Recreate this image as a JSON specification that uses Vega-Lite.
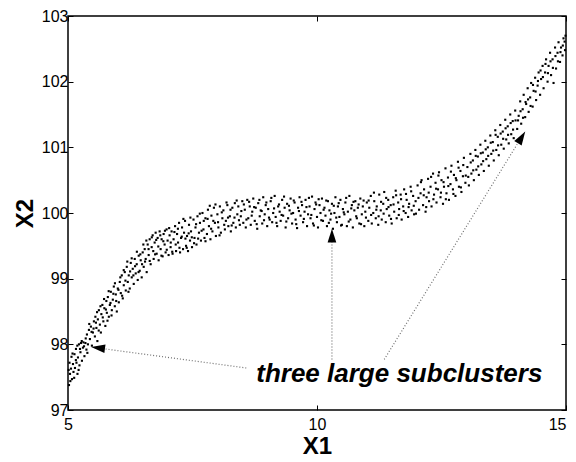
{
  "$schema": "https://vega.github.io/schema/vega-lite/v6.json",
  "width": 498,
  "height": 394,
  "autosize": {"type": "none"},
  "padding": {"left": 68, "top": 16, "right": 10, "bottom": 52},
  "background": "white",
  "config": {
    "view": {"stroke": "black", "strokeWidth": 1.5},
    "axis": {"labelFont": "Liberation Sans", "labelFontSize": 16, "labelColor": "black", "titleFont": "Liberation Sans", "titleFontSize": 24, "titleFontWeight": "bold", "titleColor": "black", "grid": false, "domain": false, "tickColor": "black", "tickSize": -5, "tickWidth": 1}
  },
  "datasets": {
    "pts": [
{"x1":5.02,"x2":97.38},{"x1":5.03,"x2":97.72},{"x1":5.04,"x2":97.55},{"x1":5.06,"x2":97.63},{"x1":5.07,"x2":97.81},{"x1":5.08,"x2":97.47},{"x1":5.10,"x2":97.70},{"x1":5.11,"x2":97.58},{"x1":5.13,"x2":97.85},{"x1":5.14,"x2":97.64},{"x1":5.16,"x2":97.93},{"x1":5.17,"x2":97.72},{"x1":5.19,"x2":97.55},{"x1":5.20,"x2":97.80},{"x1":5.22,"x2":98.00},{"x1":5.23,"x2":97.68},{"x1":5.25,"x2":97.88},{"x1":5.26,"x2":98.02},{"x1":5.28,"x2":97.75},{"x1":5.30,"x2":97.95},{"x1":5.31,"x2":98.03},{"x1":5.33,"x2":97.82},{"x1":5.35,"x2":98.02},{"x1":5.37,"x2":97.92},{"x1":5.38,"x2":98.15},{"x1":5.40,"x2":98.00},{"x1":5.42,"x2":98.22},{"x1":5.44,"x2":98.08},{"x1":5.46,"x2":98.27},{"x1":5.48,"x2":97.98},{"x1":5.50,"x2":98.18},
{"x1":5.52,"x2":98.35},{"x1":5.54,"x2":98.12},{"x1":5.55,"x2":98.42},{"x1":5.57,"x2":98.25},{"x1":5.59,"x2":98.05},{"x1":5.60,"x2":98.38},{"x1":5.62,"x2":98.52},{"x1":5.64,"x2":98.30},{"x1":5.66,"x2":98.18},{"x1":5.67,"x2":98.46},{"x1":5.69,"x2":98.60},{"x1":5.71,"x2":98.35},{"x1":5.73,"x2":98.55},{"x1":5.75,"x2":98.28},{"x1":5.77,"x2":98.66},{"x1":5.78,"x2":98.48},{"x1":5.80,"x2":98.72},{"x1":5.82,"x2":98.42},{"x1":5.84,"x2":98.60},{"x1":5.86,"x2":98.80},{"x1":5.88,"x2":98.52},{"x1":5.90,"x2":98.68},{"x1":5.92,"x2":98.88},{"x1":5.94,"x2":98.58},{"x1":5.96,"x2":98.76},{"x1":5.98,"x2":98.50},{"x1":6.00,"x2":98.85},
{"x1":6.02,"x2":98.64},{"x1":6.04,"x2":98.95},{"x1":6.06,"x2":98.78},{"x1":6.08,"x2":99.05},{"x1":6.10,"x2":98.70},{"x1":6.12,"x2":98.90},{"x1":6.14,"x2":99.10},{"x1":6.16,"x2":98.82},{"x1":6.18,"x2":99.18},{"x1":6.20,"x2":98.95},{"x1":6.22,"x2":99.05},{"x1":6.24,"x2":98.85},{"x1":6.26,"x2":99.24},{"x1":6.28,"x2":99.02},{"x1":6.30,"x2":99.15},{"x1":6.32,"x2":98.92},{"x1":6.34,"x2":99.30},{"x1":6.36,"x2":99.08},{"x1":6.38,"x2":99.22},{"x1":6.40,"x2":98.98},{"x1":6.42,"x2":99.35},{"x1":6.44,"x2":99.12},{"x1":6.46,"x2":99.28},{"x1":6.48,"x2":99.02},{"x1":6.50,"x2":99.40},
{"x1":6.52,"x2":99.18},{"x1":6.54,"x2":99.45},{"x1":6.56,"x2":99.30},{"x1":6.58,"x2":99.10},{"x1":6.60,"x2":99.52},{"x1":6.62,"x2":99.36},{"x1":6.64,"x2":99.60},{"x1":6.66,"x2":99.22},{"x1":6.68,"x2":99.48},{"x1":6.70,"x2":99.66},{"x1":6.72,"x2":99.30},{"x1":6.74,"x2":99.55},{"x1":6.76,"x2":99.70},{"x1":6.78,"x2":99.38},{"x1":6.80,"x2":99.62},{"x1":6.82,"x2":99.28},{"x1":6.84,"x2":99.72},{"x1":6.86,"x2":99.45},{"x1":6.88,"x2":99.60},{"x1":6.90,"x2":99.34},{"x1":6.92,"x2":99.68},{"x1":6.94,"x2":99.52},{"x1":6.96,"x2":99.40},{"x1":6.98,"x2":99.75},{"x1":7.00,"x2":99.58},
{"x1":7.02,"x2":99.36},{"x1":7.04,"x2":99.66},{"x1":7.06,"x2":99.48},{"x1":7.08,"x2":99.72},{"x1":7.10,"x2":99.38},{"x1":7.12,"x2":99.60},{"x1":7.15,"x2":99.80},{"x1":7.17,"x2":99.42},{"x1":7.19,"x2":99.68},{"x1":7.21,"x2":99.55},{"x1":7.23,"x2":99.85},{"x1":7.25,"x2":99.40},{"x1":7.27,"x2":99.62},{"x1":7.29,"x2":99.78},{"x1":7.31,"x2":99.45},{"x1":7.33,"x2":99.70},{"x1":7.35,"x2":99.88},{"x1":7.37,"x2":99.50},{"x1":7.39,"x2":99.65},{"x1":7.41,"x2":99.42},{"x1":7.43,"x2":99.82},{"x1":7.45,"x2":99.58},{"x1":7.47,"x2":99.72},{"x1":7.49,"x2":99.48},
{"x1":7.52,"x2":99.90},{"x1":7.54,"x2":99.62},{"x1":7.56,"x2":99.78},{"x1":7.58,"x2":99.52},{"x1":7.60,"x2":99.95},{"x1":7.63,"x2":99.70},{"x1":7.65,"x2":99.85},{"x1":7.67,"x2":99.58},{"x1":7.70,"x2":100.00},{"x1":7.72,"x2":99.75},{"x1":7.74,"x2":99.62},{"x1":7.76,"x2":99.92},{"x1":7.79,"x2":99.68},{"x1":7.81,"x2":100.05},{"x1":7.83,"x2":99.80},{"x1":7.86,"x2":99.60},{"x1":7.88,"x2":99.96},{"x1":7.90,"x2":99.72},{"x1":7.93,"x2":100.08},{"x1":7.95,"x2":99.85},{"x1":7.97,"x2":99.65},{"x1":8.00,"x2":99.98},{"x1":8.02,"x2":99.78},{"x1":8.05,"x2":100.10},{"x1":8.07,"x2":99.70},{"x1":8.10,"x2":99.92},{"x1":8.12,"x2":100.04},{"x1":8.15,"x2":99.75},{"x1":8.17,"x2":99.88},{"x1":8.20,"x2":100.12},{"x1":8.22,"x2":99.80},{"x1":8.25,"x2":99.95},{"x1":8.27,"x2":99.72},{"x1":8.30,"x2":100.08},{"x1":8.32,"x2":99.85},{"x1":8.35,"x2":100.15},{"x1":8.37,"x2":99.78},{"x1":8.40,"x2":99.98},{"x1":8.42,"x2":100.10},{"x1":8.45,"x2":99.82},{"x1":8.47,"x2":99.95},{"x1":8.50,"x2":100.18},
{"x1":8.52,"x2":99.85},{"x1":8.55,"x2":100.05},{"x1":8.57,"x2":99.78},{"x1":8.60,"x2":100.20},{"x1":8.62,"x2":99.92},{"x1":8.65,"x2":100.10},{"x1":8.67,"x2":99.82},{"x1":8.70,"x2":100.02},{"x1":8.72,"x2":100.22},{"x1":8.75,"x2":99.88},{"x1":8.77,"x2":100.08},{"x1":8.80,"x2":99.76},{"x1":8.82,"x2":100.15},{"x1":8.85,"x2":99.95},{"x1":8.87,"x2":100.04},{"x1":8.90,"x2":99.84},{"x1":8.92,"x2":100.24},{"x1":8.95,"x2":99.98},{"x1":8.97,"x2":100.12},{"x1":9.00,"x2":99.80},{"x1":9.02,"x2":100.06},{"x1":9.05,"x2":99.90},{"x1":9.07,"x2":100.18},{"x1":9.10,"x2":99.86},{"x1":9.12,"x2":100.00},{"x1":9.15,"x2":100.26},{"x1":9.17,"x2":99.94},{"x1":9.20,"x2":99.80},{"x1":9.22,"x2":100.10},{"x1":9.25,"x2":100.02},{"x1":9.27,"x2":99.88},{"x1":9.30,"x2":100.20},{"x1":9.32,"x2":99.96},{"x1":9.35,"x2":100.08},{"x1":9.37,"x2":99.78},{"x1":9.40,"x2":100.14},{"x1":9.42,"x2":99.92},{"x1":9.45,"x2":100.04},{"x1":9.47,"x2":100.22},{"x1":9.50,"x2":99.84},{"x1":9.52,"x2":100.00},{"x1":9.55,"x2":100.16},{"x1":9.57,"x2":99.90},{"x1":9.60,"x2":99.77},{"x1":9.62,"x2":100.08},{"x1":9.65,"x2":100.24},{"x1":9.67,"x2":99.96},{"x1":9.70,"x2":100.12},{"x1":9.72,"x2":99.86},{"x1":9.75,"x2":100.02},{"x1":9.77,"x2":100.20},{"x1":9.80,"x2":99.80},{"x1":9.82,"x2":99.98},{"x1":9.85,"x2":100.10},{"x1":9.87,"x2":99.92},{"x1":9.90,"x2":100.25},{"x1":9.92,"x2":99.84},{"x1":9.95,"x2":100.06},{"x1":9.97,"x2":100.16},{"x1":10.00,"x2":99.94},{"x1":10.02,"x2":99.78},{"x1":10.05,"x2":100.12},{"x1":10.07,"x2":100.00},{"x1":10.10,"x2":100.22},{"x1":10.12,"x2":99.88},{"x1":10.15,"x2":100.08},{"x1":10.17,"x2":99.96},{"x1":10.20,"x2":99.80},{"x1":10.22,"x2":100.18},{"x1":10.25,"x2":100.04},{"x1":10.27,"x2":99.90},{"x1":10.30,"x2":100.14},{"x1":10.32,"x2":99.76},{"x1":10.35,"x2":100.00},{"x1":10.37,"x2":100.24},{"x1":10.40,"x2":99.86},{"x1":10.42,"x2":100.10},{"x1":10.45,"x2":99.94},{"x1":10.47,"x2":100.20},{"x1":10.50,"x2":99.82},{"x1":10.52,"x2":100.06},{"x1":10.55,"x2":99.98},{"x1":10.57,"x2":100.16},{"x1":10.60,"x2":99.80},{"x1":10.62,"x2":100.02},{"x1":10.65,"x2":100.26},{"x1":10.67,"x2":99.90},{"x1":10.70,"x2":100.12},{"x1":10.72,"x2":99.78},{"x1":10.75,"x2":100.04},{"x1":10.77,"x2":100.18},{"x1":10.80,"x2":99.92},{"x1":10.82,"x2":100.08},{"x1":10.85,"x2":99.84},{"x1":10.87,"x2":100.22},{"x1":10.90,"x2":99.98},{"x1":10.92,"x2":100.10},{"x1":10.95,"x2":99.80},{"x1":10.97,"x2":100.02},{"x1":11.00,"x2":100.16},
{"x1":11.03,"x2":99.88},{"x1":11.05,"x2":100.08},{"x1":11.08,"x2":100.26},{"x1":11.10,"x2":99.84},{"x1":11.13,"x2":100.00},{"x1":11.15,"x2":100.18},{"x1":11.18,"x2":99.92},{"x1":11.20,"x2":100.10},{"x1":11.23,"x2":99.82},{"x1":11.25,"x2":100.28},{"x1":11.28,"x2":100.04},{"x1":11.30,"x2":99.90},{"x1":11.33,"x2":100.14},{"x1":11.35,"x2":100.32},{"x1":11.38,"x2":99.86},{"x1":11.40,"x2":100.06},{"x1":11.43,"x2":100.20},{"x1":11.45,"x2":99.96},{"x1":11.48,"x2":100.12},{"x1":11.50,"x2":99.84},{"x1":11.53,"x2":100.24},{"x1":11.55,"x2":100.02},{"x1":11.58,"x2":100.34},{"x1":11.60,"x2":99.92},{"x1":11.63,"x2":100.16},{"x1":11.65,"x2":100.06},{"x1":11.68,"x2":100.28},{"x1":11.70,"x2":99.90},{"x1":11.73,"x2":100.10},{"x1":11.75,"x2":100.36},{"x1":11.78,"x2":100.00},{"x1":11.80,"x2":100.20},{"x1":11.83,"x2":99.94},{"x1":11.85,"x2":100.14},{"x1":11.88,"x2":100.40},{"x1":11.90,"x2":100.04},{"x1":11.93,"x2":100.26},{"x1":11.95,"x2":99.98},{"x1":11.98,"x2":100.18},
{"x1":12.02,"x2":100.42},{"x1":12.05,"x2":100.05},{"x1":12.08,"x2":100.30},{"x1":12.10,"x2":100.50},{"x1":12.13,"x2":100.12},{"x1":12.15,"x2":100.36},{"x1":12.18,"x2":100.02},{"x1":12.20,"x2":100.24},{"x1":12.23,"x2":100.52},{"x1":12.25,"x2":100.18},{"x1":12.28,"x2":100.40},{"x1":12.30,"x2":100.10},{"x1":12.33,"x2":100.60},{"x1":12.35,"x2":100.28},{"x1":12.38,"x2":100.46},{"x1":12.40,"x2":100.16},{"x1":12.43,"x2":100.36},{"x1":12.45,"x2":100.62},{"x1":12.48,"x2":100.24},{"x1":12.50,"x2":100.50},{"x1":12.53,"x2":100.14},{"x1":12.55,"x2":100.40},{"x1":12.58,"x2":100.68},{"x1":12.60,"x2":100.30},{"x1":12.63,"x2":100.54},{"x1":12.65,"x2":100.20},{"x1":12.68,"x2":100.44},{"x1":12.70,"x2":100.72},{"x1":12.73,"x2":100.36},{"x1":12.75,"x2":100.58},{"x1":12.78,"x2":100.26},{"x1":12.80,"x2":100.50},{"x1":12.83,"x2":100.78},{"x1":12.85,"x2":100.40},{"x1":12.88,"x2":100.64},{"x1":12.90,"x2":100.32},{"x1":12.93,"x2":100.56},{"x1":12.95,"x2":100.84},{"x1":12.98,"x2":100.46},
{"x1":13.02,"x2":100.70},{"x1":13.05,"x2":100.42},{"x1":13.08,"x2":100.90},{"x1":13.10,"x2":100.60},{"x1":13.13,"x2":100.80},{"x1":13.15,"x2":100.50},{"x1":13.18,"x2":100.96},{"x1":13.20,"x2":100.66},{"x1":13.23,"x2":100.86},{"x1":13.25,"x2":100.58},{"x1":13.28,"x2":101.04},{"x1":13.30,"x2":100.74},{"x1":13.33,"x2":100.92},{"x1":13.35,"x2":100.64},{"x1":13.38,"x2":101.10},{"x1":13.40,"x2":100.82},{"x1":13.43,"x2":101.00},{"x1":13.45,"x2":100.72},{"x1":13.48,"x2":101.18},{"x1":13.50,"x2":100.90},{"x1":13.53,"x2":101.08},{"x1":13.55,"x2":100.80},{"x1":13.58,"x2":101.26},{"x1":13.60,"x2":100.96},{"x1":13.63,"x2":101.16},{"x1":13.65,"x2":100.88},{"x1":13.68,"x2":101.34},{"x1":13.70,"x2":101.04},{"x1":13.73,"x2":101.24},{"x1":13.75,"x2":100.98},{"x1":13.78,"x2":101.42},{"x1":13.80,"x2":101.12},{"x1":13.83,"x2":101.32},{"x1":13.85,"x2":101.06},{"x1":13.88,"x2":101.50},{"x1":13.90,"x2":101.20},{"x1":13.93,"x2":101.40},{"x1":13.95,"x2":101.14},{"x1":13.98,"x2":101.56},
{"x1":14.02,"x2":101.28},{"x1":14.05,"x2":101.48},{"x1":14.08,"x2":101.70},{"x1":14.10,"x2":101.36},{"x1":14.13,"x2":101.58},{"x1":14.15,"x2":101.80},{"x1":14.18,"x2":101.46},{"x1":14.20,"x2":101.66},{"x1":14.23,"x2":101.90},{"x1":14.25,"x2":101.54},{"x1":14.28,"x2":101.76},{"x1":14.30,"x2":101.98},{"x1":14.33,"x2":101.62},{"x1":14.35,"x2":101.86},{"x1":14.38,"x2":102.06},{"x1":14.40,"x2":101.72},{"x1":14.43,"x2":101.94},{"x1":14.45,"x2":102.14},{"x1":14.48,"x2":101.80},{"x1":14.50,"x2":102.04},{"x1":14.53,"x2":102.24},{"x1":14.55,"x2":101.90},{"x1":14.58,"x2":102.14},{"x1":14.60,"x2":102.34},{"x1":14.63,"x2":102.00},{"x1":14.65,"x2":102.24},{"x1":14.68,"x2":102.44},{"x1":14.70,"x2":102.10},{"x1":14.73,"x2":102.34},{"x1":14.75,"x2":101.98},{"x1":14.78,"x2":102.52},{"x1":14.80,"x2":102.20},{"x1":14.83,"x2":102.44},{"x1":14.85,"x2":102.60},{"x1":14.88,"x2":102.30},{"x1":14.90,"x2":102.52},{"x1":14.93,"x2":102.40},{"x1":14.95,"x2":102.66},{"x1":14.98,"x2":102.48},{"x1":14.99,"x2":102.70},
{"x1":5.013,"x2":97.61},{"x1":5.047,"x2":97.44},{"x1":5.091,"x2":97.86},{"x1":5.124,"x2":97.49},{"x1":5.158,"x2":97.76},{"x1":5.187,"x2":97.98},{"x1":5.213,"x2":97.61},{"x1":5.241,"x2":97.93},{"x1":5.276,"x2":98.05},{"x1":5.322,"x2":97.97},{"x1":5.356,"x2":98.09},{"x1":5.389,"x2":97.87},{"x1":5.427,"x2":98.31},{"x1":5.473,"x2":98.19},{"x1":5.513,"x2":98.24},{"x1":5.561,"x2":98.33},{"x1":5.583,"x2":98.49},{"x1":5.617,"x2":98.21},{"x1":5.652,"x2":98.58},{"x1":5.698,"x2":98.41},{"x1":5.724,"x2":98.69},{"x1":5.761,"x2":98.53},{"x1":5.793,"x2":98.36},{"x1":5.817,"x2":98.81},{"x1":5.853,"x2":98.63},{"x1":5.874,"x2":98.44},{"x1":5.911,"x2":98.77},{"x1":5.943,"x2":98.93},{"x1":5.968,"x2":98.66},
{"x1":6.013,"x2":98.83},{"x1":6.051,"x2":99.02},{"x1":6.087,"x2":98.74},{"x1":6.119,"x2":99.13},{"x1":6.153,"x2":98.97},{"x1":6.191,"x2":99.26},{"x1":6.214,"x2":98.80},{"x1":6.247,"x2":99.11},{"x1":6.279,"x2":99.31},{"x1":6.313,"x2":99.05},{"x1":6.347,"x2":99.19},{"x1":6.383,"x2":99.41},{"x1":6.417,"x2":99.10},{"x1":6.452,"x2":99.37},{"x1":6.487,"x2":99.22},{"x1":6.513,"x2":99.52},{"x1":6.547,"x2":99.26},{"x1":6.573,"x2":99.58},{"x1":6.618,"x2":99.45},{"x1":6.641,"x2":99.27},{"x1":6.683,"x2":99.63},{"x1":6.712,"x2":99.42},{"x1":6.749,"x2":99.37},{"x1":6.771,"x2":99.59},{"x1":6.813,"x2":99.49},{"x1":6.853,"x2":99.66},{"x1":6.876,"x2":99.35},{"x1":6.914,"x2":99.57},{"x1":6.947,"x2":99.73},{"x1":6.983,"x2":99.44},
{"x1":7.031,"x2":99.77},{"x1":7.063,"x2":99.55},{"x1":7.093,"x2":99.41},{"x1":7.137,"x2":99.71},{"x1":7.163,"x2":99.52},{"x1":7.207,"x2":99.76},{"x1":7.238,"x2":99.47},{"x1":7.284,"x2":99.64},{"x1":7.317,"x2":99.91},{"x1":7.358,"x2":99.61},{"x1":7.384,"x2":99.47},{"x1":7.423,"x2":99.69},{"x1":7.458,"x2":99.93},{"x1":7.486,"x2":99.63},{"x1":7.531,"x2":99.54},{"x1":7.572,"x2":99.83},{"x1":7.613,"x2":99.61},{"x1":7.647,"x2":99.99},{"x1":7.683,"x2":99.73},{"x1":7.726,"x2":99.88},{"x1":7.761,"x2":99.57},{"x1":7.803,"x2":99.91},{"x1":7.847,"x2":100.11},{"x1":7.874,"x2":99.76},{"x1":7.918,"x2":99.88},{"x1":7.961,"x2":100.13},{"x1":8.013,"x2":99.86},{"x1":8.043,"x2":99.66},{"x1":8.088,"x2":100.01},{"x1":8.137,"x2":99.82},{"x1":8.183,"x2":100.16},{"x1":8.213,"x2":99.93},{"x1":8.263,"x2":100.05},{"x1":8.287,"x2":99.81},{"x1":8.343,"x2":99.93},{"x1":8.387,"x2":100.19},{"x1":8.433,"x2":99.89},{"x1":8.481,"x2":100.03},
{"x1":8.531,"x2":100.13},{"x1":8.583,"x2":99.90},{"x1":8.637,"x2":100.17},{"x1":8.689,"x2":99.96},{"x1":8.738,"x2":100.09},{"x1":8.789,"x2":99.83},{"x1":8.843,"x2":100.20},{"x1":8.889,"x2":100.03},{"x1":8.936,"x2":99.89},{"x1":8.983,"x2":100.16},{"x1":9.036,"x2":99.93},{"x1":9.083,"x2":100.23},{"x1":9.138,"x2":100.07},{"x1":9.186,"x2":99.85},{"x1":9.237,"x2":100.13},{"x1":9.289,"x2":99.97},{"x1":9.338,"x2":100.25},{"x1":9.384,"x2":99.87},{"x1":9.437,"x2":100.11},{"x1":9.486,"x2":99.99},{"x1":9.533,"x2":100.19},{"x1":9.583,"x2":99.83},{"x1":9.637,"x2":100.03},{"x1":9.688,"x2":100.17},{"x1":9.736,"x2":99.91},{"x1":9.788,"x2":100.09},{"x1":9.838,"x2":100.23},{"x1":9.886,"x2":99.97},{"x1":9.937,"x2":99.81},{"x1":9.983,"x2":100.13},{"x1":10.033,"x2":100.21},{"x1":10.087,"x2":99.89},{"x1":10.133,"x2":100.05},{"x1":10.186,"x2":100.19},{"x1":10.238,"x2":99.85},{"x1":10.283,"x2":99.99},{"x1":10.337,"x2":100.11},{"x1":10.386,"x2":99.93},{"x1":10.436,"x2":100.15},{"x1":10.483,"x2":99.81},{"x1":10.537,"x2":100.01},{"x1":10.586,"x2":100.23},{"x1":10.637,"x2":99.87},{"x1":10.688,"x2":100.07},{"x1":10.733,"x2":100.17},{"x1":10.787,"x2":99.95},{"x1":10.836,"x2":100.13},{"x1":10.884,"x2":99.83},{"x1":10.936,"x2":100.19},{"x1":10.983,"x2":99.93},
{"x1":11.037,"x2":100.19},{"x1":11.087,"x2":99.97},{"x1":11.143,"x2":100.31},{"x1":11.191,"x2":100.05},{"x1":11.237,"x2":99.95},{"x1":11.287,"x2":100.17},{"x1":11.338,"x2":99.99},{"x1":11.389,"x2":100.23},{"x1":11.436,"x2":100.09},{"x1":11.486,"x2":99.91},{"x1":11.537,"x2":100.13},{"x1":11.589,"x2":100.27},{"x1":11.642,"x2":99.97},{"x1":11.688,"x2":100.21},{"x1":11.741,"x2":100.03},{"x1":11.787,"x2":100.29},{"x1":11.839,"x2":100.09},{"x1":11.891,"x2":100.33},{"x1":11.943,"x2":100.11},{"x1":11.987,"x2":99.99},
{"x1":12.037,"x2":100.23},{"x1":12.087,"x2":100.47},{"x1":12.143,"x2":100.27},{"x1":12.193,"x2":100.09},{"x1":12.243,"x2":100.31},{"x1":12.291,"x2":100.55},{"x1":12.337,"x2":100.21},{"x1":12.392,"x2":100.37},{"x1":12.438,"x2":100.57},{"x1":12.489,"x2":100.31},{"x1":12.541,"x2":100.47},{"x1":12.587,"x2":100.21},{"x1":12.637,"x2":100.41},{"x1":12.689,"x2":100.63},{"x1":12.739,"x2":100.29},{"x1":12.788,"x2":100.53},{"x1":12.843,"x2":100.69},{"x1":12.889,"x2":100.39},{"x1":12.937,"x2":100.73},{"x1":12.987,"x2":100.57},
{"x1":13.037,"x2":100.55},{"x1":13.087,"x2":100.77},{"x1":13.137,"x2":100.65},{"x1":13.188,"x2":100.87},{"x1":13.237,"x2":100.71},{"x1":13.289,"x2":100.91},{"x1":13.336,"x2":100.79},{"x1":13.388,"x2":100.97},{"x1":13.437,"x2":100.87},{"x1":13.489,"x2":101.07},{"x1":13.538,"x2":100.95},{"x1":13.587,"x2":101.19},{"x1":13.636,"x2":101.03},{"x1":13.688,"x2":101.21},{"x1":13.738,"x2":101.13},{"x1":13.787,"x2":101.29},{"x1":13.836,"x2":101.19},{"x1":13.889,"x2":101.37},{"x1":13.937,"x2":101.27},{"x1":13.987,"x2":101.41},
{"x1":14.037,"x2":101.41},{"x1":14.087,"x2":101.55},{"x1":14.137,"x2":101.45},{"x1":14.188,"x2":101.69},{"x1":14.238,"x2":101.73},{"x1":14.289,"x2":101.63},{"x1":14.337,"x2":101.95},{"x1":14.389,"x2":101.85},{"x1":14.437,"x2":102.01},{"x1":14.489,"x2":102.17},{"x1":14.536,"x2":102.07},{"x1":14.588,"x2":102.27},{"x1":14.637,"x2":102.13},{"x1":14.689,"x2":102.31},{"x1":14.737,"x2":102.21},{"x1":14.788,"x2":102.39},{"x1":14.838,"x2":102.31},{"x1":14.889,"x2":102.45},{"x1":14.936,"x2":102.55},{"x1":14.972,"x2":102.61}
    ],
    "arrows": [
      {"xa": 8.58, "ya": 97.64, "xb": 5.50, "yb": 97.955},
      {"xa": 10.30, "ya": 97.77, "xb": 10.30, "yb": 99.70},
      {"xa": 11.35, "ya": 97.77, "xb": 14.12, "yb": 101.17}
    ],
    "heads": [
      {"xh": 5.638, "yh": 97.942, "ang": 277.5},
      {"xh": 10.30, "yh": 99.63, "ang": 0},
      {"xh": 14.09, "yh": 101.13, "ang": 31.7}
    ],
    "label": [
      {"xt": 8.78, "yt": 97.43, "txt": "three large subclusters"}
    ]
  },
  "layer": [
    {
      "data": {"name": "pts"},
      "mark": {"type": "point", "shape": "square", "filled": true, "size": 4.5, "color": "black", "opacity": 1, "strokeWidth": 0},
      "encoding": {
        "x": {"field": "x1", "type": "quantitative", "scale": {"domain": [5, 15], "nice": false, "zero": false}, "axis": {"title": "X1", "values": [5, 10, 15], "labelPadding": 11, "titlePadding": 2, "labelAlign": {"expr": "datum.value == 15 ? 'right' : 'center'"}}},
        "y": {"field": "x2", "type": "quantitative", "scale": {"domain": [97, 103], "nice": false, "zero": false}, "axis": {"title": "X2", "values": [97, 98, 99, 100, 101, 102, 103], "labelPadding": 5, "titlePadding": 4}}
      }
    },
    {
      "data": {"name": "arrows"},
      "mark": {"type": "rule", "color": "#6e6e6e", "strokeWidth": 1.2, "strokeDash": [1, 2]},
      "encoding": {
        "x": {"field": "xa", "type": "quantitative", "axis": {"orient": "top", "labels": false, "title": null, "values": [5, 10, 15]}},
        "y": {"field": "ya", "type": "quantitative", "axis": {"orient": "right", "labels": false, "title": null, "values": [97, 98, 99, 100, 101, 102, 103]}},
        "x2": {"field": "xb"},
        "y2": {"field": "yb"}
      }
    },
    {
      "data": {"name": "heads"},
      "mark": {"type": "point", "shape": "M0,-1L0.5,0.6L-0.5,0.6Z", "filled": true, "size": 300, "color": "black", "opacity": 1, "strokeWidth": 0},
      "encoding": {
        "x": {"field": "xh", "type": "quantitative", "axis": null},
        "y": {"field": "yh", "type": "quantitative", "axis": null},
        "angle": {"field": "ang", "type": "quantitative", "scale": null}
      }
    },
    {
      "data": {"name": "label"},
      "mark": {"type": "text", "font": "Liberation Sans", "fontSize": 26, "fontWeight": "bold", "fontStyle": "italic", "align": "left", "baseline": "alphabetic", "color": "black"},
      "encoding": {
        "x": {"field": "xt", "type": "quantitative", "axis": null},
        "y": {"field": "yt", "type": "quantitative", "axis": null},
        "text": {"field": "txt"}
      }
    }
  ],
  "resolve": {"axis": {"x": "independent", "y": "independent"}}
}
